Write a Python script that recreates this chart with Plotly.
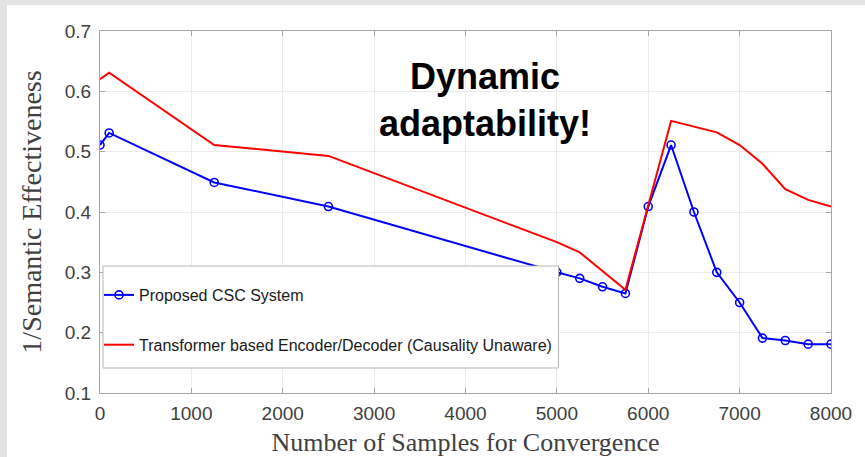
import plotly.graph_objects as go

# ---- data ----
x_proposed = [0, 100, 1250, 2500, 5000, 5250, 5500, 5750, 6000, 6250, 6500, 6750, 7000, 7250, 7500, 7750, 8000]
y_proposed = [0.511, 0.531, 0.449, 0.409, 0.300, 0.290, 0.276, 0.265, 0.409, 0.511, 0.400, 0.300, 0.250, 0.191, 0.187, 0.181, 0.181]

x_transformer = [0, 100, 1250, 2500, 5000, 5250, 5750, 6250, 6750, 7000, 7250, 7500, 7750, 8000]
y_transformer = [0.620, 0.631, 0.511, 0.493, 0.350, 0.333, 0.271, 0.551, 0.532, 0.511, 0.480, 0.438, 0.420, 0.409]

x_ticks = [0, 1000, 2000, 3000, 4000, 5000, 6000, 7000, 8000]
y_ticks = [0.1, 0.2, 0.3, 0.4, 0.5, 0.6, 0.7]

name_proposed = "Proposed CSC System"
name_transformer = "Transformer based Encoder/Decoder (Causality Unaware)"

W, H = 865, 457
L, R, T, B = 100, 34, 31, 64
pw, ph = W - L - R, H - T - B

def px_x(p):
    return (p - L) / pw

def px_y(p):
    return (H - B - p) / ph

fig = go.Figure()
fig.add_trace(go.Scatter(
    x=x_proposed, y=y_proposed, name=name_proposed, mode="lines+markers",
    line=dict(color="#0000ff", width=2),
    marker=dict(symbol="circle-open", size=8, color="#0000ff", line=dict(width=1.6, color="#0000ff")),
    legendgroup="a",
))
fig.add_trace(go.Scatter(
    x=x_transformer, y=y_transformer, name=name_transformer, mode="lines",
    line=dict(color="#ff0000", width=2),
    legendgroup="b",
))

axis_common = dict(
    showline=True, linecolor="#a6a6a6", linewidth=1, mirror="ticks",
    ticks="inside", ticklen=5, tickcolor="#a6a6a6",
    showgrid=True, gridcolor="#ebebeb", gridwidth=1, zeroline=False,
    tickfont=dict(family="Liberation Sans, Arial, sans-serif", size=19, color="#404040"),
    automargin=False,
)

fig.update_xaxes(
    range=[0, 8000], tickvals=x_ticks, ticktext=[str(v) for v in x_ticks],
    title=dict(text="Number of Samples for Convergence",
               font=dict(family="Liberation Serif, serif", size=26, color="#404040"), standoff=10),
    ticklabelstandoff=3,
    **axis_common,
)
fig.update_yaxes(
    range=[0.1, 0.7], tickvals=y_ticks, ticktext=[f"{v:.1f}" for v in y_ticks],
    title=dict(text="1/Semantic Effectiveness",
               font=dict(family="Liberation Serif, serif", size=28, color="#404040"), standoff=14),
    ticklabelstandoff=4,
    **axis_common,
)

shapes = [
    # grey frame bands (left and top)
    dict(type="rect", xref="paper", yref="paper", x0=px_x(0), x1=px_x(7), y0=px_y(H), y1=px_y(0),
         fillcolor="#e3e3e3", line=dict(width=0), layer="below"),
    dict(type="rect", xref="paper", yref="paper", x0=px_x(0), x1=px_x(W), y0=px_y(5), y1=px_y(0),
         fillcolor="#e3e3e3", line=dict(width=0), layer="below"),
    # legend box
    dict(type="rect", xref="paper", yref="paper", x0=px_x(103), x1=px_x(558.5), y0=px_y(368), y1=px_y(266),
         fillcolor="white", line=dict(width=1, color="#b5b5b5"), layer="above"),
]

fig.update_layout(
    width=W, height=H,
    margin=dict(l=L, r=R, t=T, b=B, autoexpand=False),
    paper_bgcolor="white", plot_bgcolor="white",
    shapes=shapes,
    showlegend=True,
    legend=dict(
        x=px_x(99), y=px_y(278), xanchor="left", yanchor="top",
        bgcolor="rgba(0,0,0,0)", borderwidth=0,
        font=dict(family="Liberation Sans, Arial, sans-serif", size=16, color="#1a1a1a"),
        tracegroupgap=26, itemwidth=30,
    ),
    annotations=[
        dict(text="<b>Dynamic<br>adaptability!</b>", xref="paper", yref="paper",
             x=px_x(485), y=px_y(100), xanchor="center", yanchor="middle", showarrow=False,
             font=dict(family="Liberation Sans, Arial, sans-serif", size=36, color="black"),
             align="center"),
    ],
)

fig.write_html("out.html")
